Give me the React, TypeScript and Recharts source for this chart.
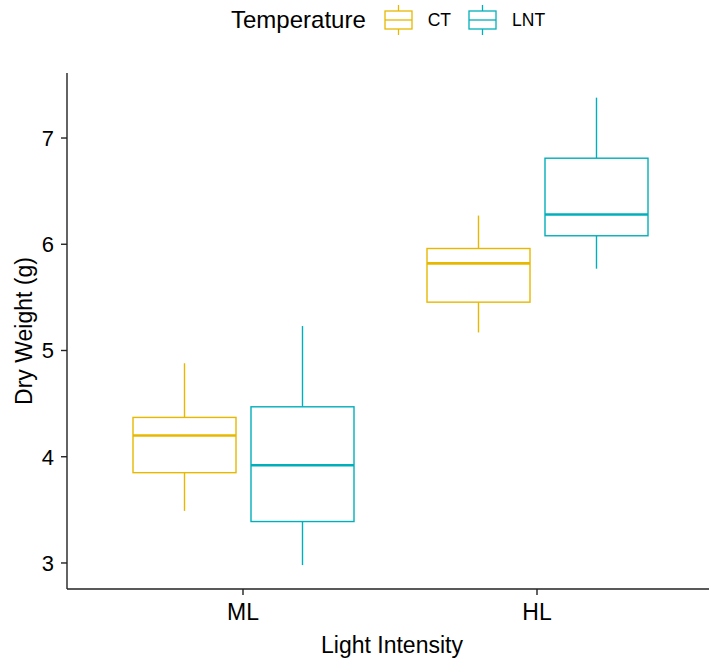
import React from 'react';
import { ComposedChart, Bar, XAxis, YAxis, Legend } from 'recharts';

// categories on the x axis and the temperature groups
const categories = ['ML', 'HL'];
const groups = ['CT', 'LNT'];
const groupColors = ['#E7B800', '#00AFBB'];

// box statistics, one value per category
const ctMin = [3.49, 5.17];
const ctQ1 = [3.85, 5.455];
const ctMedian = [4.2, 5.82];
const ctQ3 = [4.37, 5.96];
const ctMax = [4.88, 6.27];

const lntMin = [2.98, 5.77];
const lntQ1 = [3.39, 6.08];
const lntMedian = [3.92, 6.28];
const lntQ3 = [4.47, 6.81];
const lntMax = [5.23, 7.38];

const yTicks = [3, 4, 5, 6, 7];
const yDomain = [2.755, 7.612];

const FONT = '"Liberation Sans", Arial, sans-serif';

const data = categories.map((cat, i) => ({
  cat,
  CT: { min: ctMin[i], q1: ctQ1[i], med: ctMedian[i], q3: ctQ3[i], max: ctMax[i] },
  LNT: { min: lntMin[i], q1: lntQ1[i], med: lntMedian[i], q3: lntQ3[i], max: lntMax[i] },
}));

// bar spans min..max, the rest is placed inside it on the same linear scale
function BoxShape(props: any) {
  const { x, y, width, height, payload, group, color } = props;
  const s = payload[group];
  const py = (v: number) => y + ((s.max - v) / (s.max - s.min)) * height;
  const cx = x + width / 2;
  return (
    <g>
      <line x1={cx} x2={cx} y1={py(s.max)} y2={py(s.q3)} stroke={color} strokeWidth={1.4} />
      <line x1={cx} x2={cx} y1={py(s.q1)} y2={py(s.min)} stroke={color} strokeWidth={1.4} />
      <rect
        x={x}
        y={py(s.q3)}
        width={width}
        height={py(s.q1) - py(s.q3)}
        fill="#fff"
        stroke={color}
        strokeWidth={1.4}
      />
      <line x1={x} x2={x + width} y1={py(s.med)} y2={py(s.med)} stroke={color} strokeWidth={2.6} />
    </g>
  );
}

function LegendKey({ color }: { color: string }) {
  return (
    <svg width={29} height={30} style={{ display: 'block' }}>
      <line x1={14.5} x2={14.5} y1={0} y2={30} stroke={color} strokeWidth={1.3} />
      <rect x={1} y={6} width={27} height={18} fill="#fff" stroke={color} strokeWidth={1.3} />
      <line x1={1} x2={28} y1={15} y2={15} stroke={color} strokeWidth={1.3} />
    </svg>
  );
}

function TopLegend() {
  return (
    <div
      style={{
        height: 40,
        display: 'flex',
        alignItems: 'center',
        paddingLeft: 231,
        fontFamily: FONT,
        color: '#000',
      }}
    >
      <span style={{ fontSize: 24, marginRight: 18 }}>Temperature</span>
      {groups.map((g, i) => (
        <React.Fragment key={g}>
          <LegendKey color={groupColors[i]} />
          <span style={{ fontSize: 17.5, marginLeft: 15, marginRight: 17 }}>{g}</span>
        </React.Fragment>
      ))}
    </div>
  );
}

export default function App() {
  return (
    <div style={{ position: 'absolute', left: 0, top: 0, width: 709, height: 660, overflow: 'hidden' }}>
      <ComposedChart
        width={715}
        height={660}
        data={data}
        barGap={15}
        margin={{ top: 33, right: 2, bottom: 0, left: 0 }}
        style={{ fontFamily: FONT }}
      >
        <Legend
          verticalAlign="top"
          content={() => <TopLegend />}
          wrapperStyle={{ top: 0, left: 0, width: 715, height: 40 }}
        />
        <XAxis
          dataKey="cat"
          padding={{ left: 29, right: 29 }}
          height={71}
          tickSize={6}
          tickMargin={9}
          axisLine={{ stroke: '#222', strokeWidth: 1.4 }}
          tickLine={{ stroke: '#222', strokeWidth: 1.4 }}
          tick={{ fontSize: 23, fill: '#000', fontFamily: FONT }}
          label={{
            content: (p: any) => {
              const vb = p.viewBox;
              return (
                <text
                  x={vb.x + vb.width / 2 + 2}
                  y={vb.y + 64}
                  textAnchor="middle"
                  fontSize={23}
                  fill="#000"
                  fontFamily={FONT}
                >
                  Light Intensity
                </text>
              );
            },
          }}
        />
        <YAxis
          type="number"
          domain={yDomain}
          ticks={yTicks}
          allowDataOverflow
          width={67}
          tickSize={6}
          tickMargin={7}
          axisLine={{ stroke: '#222', strokeWidth: 1.4 }}
          tickLine={{ stroke: '#222', strokeWidth: 1.4 }}
          tick={{ fontSize: 22, fill: '#000', fontFamily: FONT }}
          label={{
            content: (p: any) => {
              const vb = p.viewBox;
              const cx = vb.x + 24;
              const cy = vb.y + vb.height / 2;
              return (
                <text
                  x={cx}
                  y={cy}
                  transform={`rotate(-90 ${cx} ${cy})`}
                  textAnchor="middle"
                  dominantBaseline="central"
                  fontSize={23}
                  fill="#000"
                  fontFamily={FONT}
                >
                  Dry Weight (g)
                </text>
              );
            },
          }}
        />
        {groups.map((g, i) => (
          <Bar
            key={g}
            name={g}
            dataKey={(d: any) => [d[g].min, d[g].max]}
            barSize={103}
            isAnimationActive={false}
            shape={(p: any) => <BoxShape {...p} group={g} color={groupColors[i]} />}
          />
        ))}
      </ComposedChart>
    </div>
  );
}
